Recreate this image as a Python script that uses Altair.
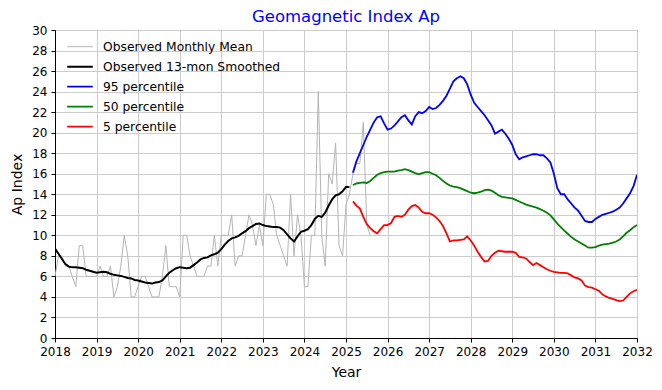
import altair as alt
import pandas as pd

START_YEAR = 2018

# Observed monthly mean Ap, Jan 2018 .. Aug 2025
obs_monthly = [
    6, 8, 8, 7, 7, 6, 5, 9, 9, 6, 6, 6,          # 2018
    6, 7, 6, 6, 7, 4, 5, 7, 10, 8, 4, 4,         # 2019
    5, 6, 6, 5, 4, 4, 4, 6, 9, 5, 5, 5,          # 2020
    4, 10, 10, 8, 7, 6, 6, 6, 7, 7, 10, 7,       # 2021
    10, 10, 10, 12, 7, 8, 8, 10, 12, 11, 9, 11,  # 2022
    9, 14, 14, 13, 10, 9, 8, 7, 14, 8, 12, 10,   # 2023
    5, 5, 10, 10, 24, 10, 7, 16, 15, 19, 9, 8,   # 2024
    13, 14, 16, 17, 17, 21, 11, 10,              # 2025
]

# Observed 13-month smoothed Ap, Jan 2018 .. Feb 2025
obs_smoothed = [
    8.7, 8.2, 7.7, 7.2, 6.95, 6.9, 6.9, 6.85, 6.8, 6.65, 6.55, 6.45,
    6.35, 6.4, 6.45, 6.4, 6.25, 6.15, 6.1, 6.05, 5.95, 5.85, 5.8, 5.65,
    5.6, 5.5, 5.4, 5.35, 5.3, 5.4, 5.45, 5.6, 6.0, 6.35, 6.6, 6.8,
    6.9, 6.85, 6.8, 6.85, 7.1, 7.35, 7.65, 7.8, 7.85, 8.05, 8.15, 8.3,
    8.65, 9.1, 9.45, 9.7, 9.8, 9.95, 10.2, 10.4, 10.7, 10.9, 11.1, 11.15,
    11.0, 10.9, 10.85, 10.8, 10.8, 10.75, 10.5, 10.1, 9.7, 9.4, 9.9, 10.35,
    10.45, 10.6, 11.0, 11.6, 11.9, 11.8, 12.2, 12.9, 13.5, 13.9, 14.0, 14.3,
    14.7, 14.7,
]

# Predictions, Mar 2025 .. Jan 2032 (month index 86 from Jan 2018)
PRED_START = 86
p95 = [
    16.1, 17.2, 18.0, 18.8, 19.6, 20.3, 21.0, 21.5, 21.6, 20.9,
    20.3, 20.4, 20.7, 21.1, 21.5, 21.7, 21.2, 20.8, 21.6, 22.0, 21.9, 22.1,
    22.5, 22.3, 22.4, 22.7, 23.1, 23.6, 24.3, 25.0, 25.3, 25.5, 25.3, 24.7,
    23.7, 22.9, 22.5, 22.1, 21.7, 21.2, 20.7, 19.9, 20.1, 20.3, 19.9, 19.4,
    18.8, 17.9, 17.4, 17.6, 17.7, 17.8, 17.9, 17.9, 17.8, 17.8, 17.5, 17.1,
    16.0, 14.6, 14.0, 14.0, 13.5, 13.1, 12.7, 12.4, 11.9, 11.4, 11.3, 11.3,
    11.6, 11.8, 12.0, 12.1, 12.2, 12.3, 12.5, 12.7, 13.1, 13.6, 14.1, 14.8,
    15.9,
]
p50 = [
    14.9, 15.05, 15.1, 15.15, 15.1, 15.3, 15.6, 15.9, 16.05, 16.15,
    16.2, 16.2, 16.2, 16.3, 16.35, 16.45, 16.35, 16.2, 16.05, 15.95, 16.05, 16.15,
    16.15, 16.0, 15.85, 15.6, 15.3, 15.05, 14.85, 14.75, 14.7, 14.6, 14.45, 14.3,
    14.15, 14.1, 14.15, 14.25, 14.4, 14.45, 14.35, 14.15, 13.9, 13.75, 13.7, 13.65,
    13.6, 13.45, 13.3, 13.15, 13.0, 12.9, 12.8, 12.7, 12.55, 12.4, 12.2, 11.95,
    11.55, 11.15, 10.8, 10.45, 10.15, 9.85, 9.6, 9.4, 9.2, 9.0, 8.8, 8.8,
    8.85, 9.0, 9.1, 9.15, 9.2, 9.3, 9.4, 9.6, 9.9, 10.25, 10.5, 10.8,
    11.0,
]
p5 = [
    13.3, 12.9, 12.6, 11.8, 11.1, 10.7, 10.4, 10.2, 10.6, 11.0,
    11.0, 11.2, 11.8, 11.9, 11.8, 12.0, 12.5, 12.85, 12.95, 12.7, 12.3, 12.15,
    12.15, 12.0, 11.75, 11.4, 10.9, 10.2, 9.4, 9.5, 9.5, 9.55, 9.6, 9.9,
    9.5, 9.0, 8.4, 7.9, 7.45, 7.5, 8.0, 8.3, 8.5, 8.45, 8.4, 8.4,
    8.4, 8.3, 7.9, 7.85, 7.75, 7.4, 7.1, 7.3, 7.1, 6.9, 6.7, 6.55,
    6.45, 6.4, 6.35, 6.35, 6.3, 6.1, 5.9, 5.8, 5.6, 5.1, 4.95, 4.9,
    4.75, 4.6, 4.25, 4.05, 3.9, 3.8, 3.7, 3.6, 3.65, 4.0, 4.35, 4.55,
    4.7,
]

series_names = ["Observed Monthly Mean", "Observed 13-mon Smoothed",
                "95 percentile", "50 percentile", "5 percentile"]
series_colors = ["#b4b4b4", "#000000", "#0000ff", "#008000", "#ff0000"]
series_widths = [1.0, 2.0, 1.8, 1.8, 1.8]

rows = []
def add(name, values, offset):
    for i, v in enumerate(values):
        m = offset + i
        rows.append({"series": name, "year": START_YEAR + m / 12.0, "ap": v})

add(series_names[0], obs_monthly, 0)
add(series_names[1], obs_smoothed, 0)
add(series_names[2], p95, PRED_START)
add(series_names[3], p50, PRED_START)
add(series_names[4], p5, PRED_START)
df = pd.DataFrame(rows)

FONT = "DejaVu Sans"

legend_kw = dict(
    title=None, orient="none", legendX=11.0, legendY=7,
    labelFont=FONT, labelFontSize=12.3, labelColor="black", labelLimit=400,
    symbolType="stroke", symbolSize=655, labelOffset=9,
    clipHeight=19.4, rowPadding=0, padding=0,
)

chart = alt.Chart(df).mark_line(clip=True).encode(
    x=alt.X("year:Q",
            scale=alt.Scale(domain=[2018, 2032], nice=False, zero=False),
            axis=alt.Axis(title="Year", values=list(range(2018, 2033)),
                          format="d", labelFlush=False, titlePadding=8)),
    y=alt.Y("ap:Q",
            scale=alt.Scale(domain=[0, 30], nice=False),
            axis=alt.Axis(title="Ap Index", values=list(range(0, 31, 2)),
                          labelFlush=False, titlePadding=7)),
    color=alt.Color("series:N",
                    scale=alt.Scale(domain=series_names, range=series_colors),
                    legend=alt.Legend(**legend_kw)),
    strokeWidth=alt.StrokeWidth("series:N",
                    scale=alt.Scale(type="ordinal", domain=series_names,
                                    range=series_widths),
                    legend=alt.Legend(**legend_kw)),
    order=alt.Order("year:Q"),
).properties(
    width=582, height=308,
    title=alt.Title("Geomagnetic Index Ap", color="#0000ff", fontSize=16.5,
                    font=FONT, fontWeight="normal", anchor="middle",
                    offset=7, dy=8),
    autosize=alt.AutoSizeParams(type="none"),
    padding={"left": 47, "top": 22, "right": 17, "bottom": 40},
).configure_view(
    stroke="black", strokeWidth=1
).configure_axis(
    labelFont=FONT, labelFontSize=12, labelColor="black",
    titleFont=FONT, titleFontSize=14, titleFontWeight="normal", titleColor="black",
    tickColor="black", tickSize=4, labelPadding=4,
    domainColor="black", gridColor="#cccccc", gridWidth=1,
)

chart.save("out.html", embed_options={"renderer": "svg", "actions": False})
